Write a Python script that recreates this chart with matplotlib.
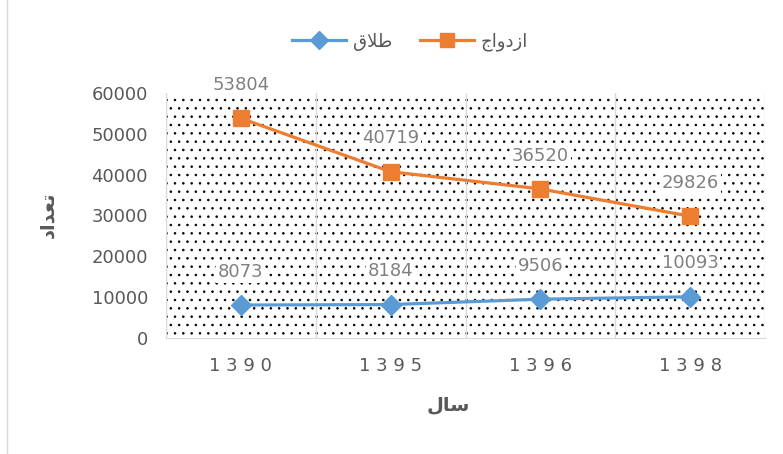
import matplotlib; matplotlib.use("Agg")
import matplotlib.pyplot as plt
from matplotlib.lines import Line2D

# data
years = ["1390", "1395", "1396", "1398"]
marriage = [53804, 40719, 36520, 29826]
divorce = [8073, 8184, 9506, 10093]

# Persian text written in visual order with presentation forms (no shaping engine in mpl)
lbl_divorce = "\uFED5\uFEFC\uFEC3"                   # طلاق
lbl_marriage = "\uFE9D\uFE8D\uFEED\uFEA9\uFEAF\uFE8D"  # ازدواج
lbl_count = "\uFEA9\uFE8D\uFEAA\uFECC\uFE97"          # تعداد
lbl_year = "\uFEDD\uFE8E\uFEB3"                       # سال

ORANGE, BLUE, GRID, TXT = "#ED7D31", "#5B9BD5", "#D9D9D9", "#595959"
plt.rcParams["font.family"] = ["DejaVu Sans"]
plt.rcParams["hatch.linewidth"] = 0.6

fig = plt.figure(figsize=(7.83, 4.54), dpi=100)
ax = fig.add_axes([166/783, 1-338/454, (765-166)/783, (338-93)/454])
x = range(len(years))

# dotted plot-area fill (hatch takes the edge colour, so hide the edge by lw=0)
ax.add_patch(plt.Rectangle((0, 0), 1, 1, transform=ax.transAxes, facecolor="white",
                           edgecolor="black", lw=0, hatch="..", zorder=0))
ax.plot(x, divorce, color=BLUE, lw=2.3, marker="D", ms=10, zorder=3)
ax.plot(x, marriage, color=ORANGE, lw=2.3, marker="s", ms=12, zorder=3)

for xs, vals in ((x, marriage), (x, divorce)):
    for xi, v in zip(xs, vals):
        ax.annotate(str(v), (xi, v), xytext=(0, 24), textcoords="offset points",
                    ha="center", va="center", fontsize=13, color="#808080", zorder=4,
                    annotation_clip=False,
                    bbox=dict(boxstyle="square,pad=0.1", fc="white", ec="none"))

ax.set_xlim(-0.5, len(years) - 0.5)
ax.set_ylim(0, 60000)
ax.set_yticks(range(0, 60001, 10000))
ax.set_xticks(list(x))
ax.set_xticklabels([" ".join(y) for y in years])
ax.set_xticks([i - 0.5 for i in range(len(years) + 1)], minor=True)
ax.grid(which="minor", axis="x", color=GRID, lw=1)
ax.tick_params(which="both", length=0, labelsize=13, colors=TXT)
ax.tick_params(axis="x", pad=14)
ax.tick_params(axis="y", pad=13)
for s in ("top", "right"):
    ax.spines[s].set_visible(False)
for s in ("left", "bottom"):
    ax.spines[s].set_color(GRID)
ax.set_axisbelow(True)

fig.text(48/783, 1-215/454, lbl_count, rotation=90, ha="center", va="center",
         fontsize=14, fontweight="bold", color=TXT)
fig.text(448/783, 1-405/454, lbl_year, ha="center", va="center",
         fontsize=14, fontweight="bold", color=TXT)

h = [Line2D([], [], color=BLUE, lw=2.3, marker="D", ms=9),
     Line2D([], [], color=ORANGE, lw=2.3, marker="s", ms=10)]
fig.legend(h, [lbl_divorce, lbl_marriage], loc="center", bbox_to_anchor=(410/783, 1-42/454),
           ncol=2, frameon=False, fontsize=13, labelcolor=TXT, handlelength=3,
           columnspacing=1.5, handletextpad=0.4)

fig.add_artist(Line2D([7/783, 7/783], [0, 1], transform=fig.transFigure, color=GRID, lw=1))
fig.savefig("out.png", dpi=100)
